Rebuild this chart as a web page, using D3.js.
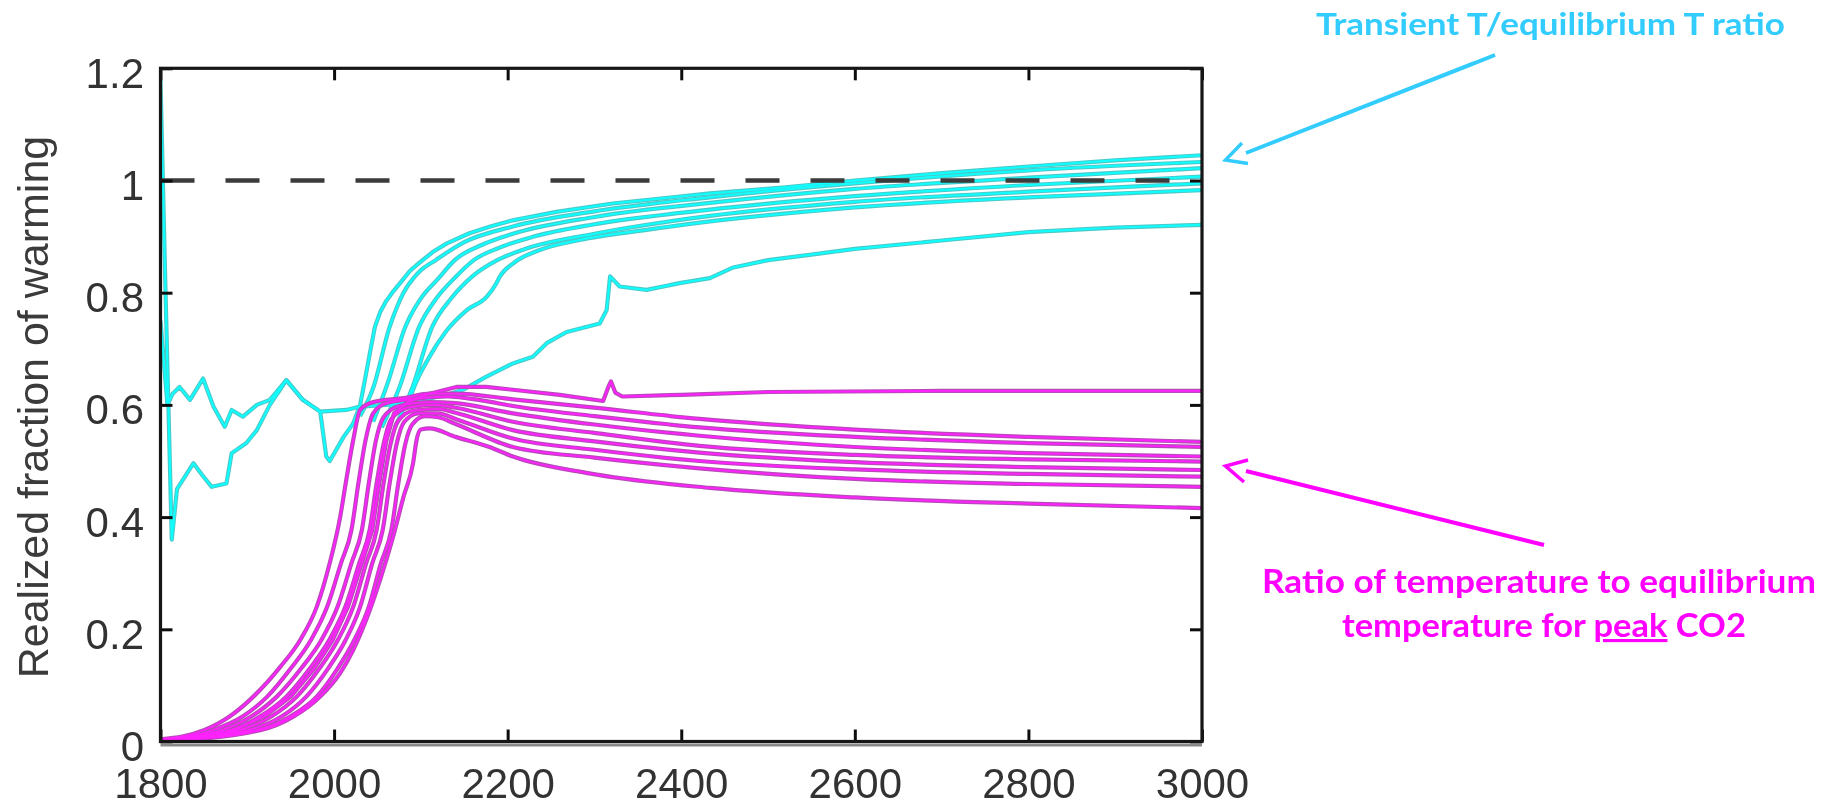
<!DOCTYPE html>
<html><head><meta charset="utf-8">
<script src="https://cdn.jsdelivr.net/npm/d3@7"></script>
<style>
html,body{margin:0;padding:0;background:#fff;}
svg{display:block;}
</style>
</head><body>
<svg id="chart" width="1825" height="805"></svg>
<script>
// ---------- data ----------
const xTickValues = [1800, 2000, 2200, 2400, 2600, 2800, 3000];
const xTickLabels = ["1800", "2000", "2200", "2400", "2600", "2800", "3000"];
const yTickValues = [0, 0.2, 0.4, 0.6, 0.8, 1, 1.2];
const yTickLabels = ["0", "0.2", "0.4", "0.6", "0.8", "1", "1.2"];
const yAxisTitle = "Realized fraction of warming";
const equilibriumLevel = 1;

// transient T / equilibrium T (cyan)
const cyan1 = [[1800,1.18],[1805,0.85],[1813,0.36],[1819,0.45],[1838,0.496],[1848,0.475],[1859,0.454],[1876,0.46],[1882,0.514],[1899,0.532],[1911,0.555],[1926,0.60],[1945,0.644],[1964,0.609],[1984,0.588],[1991,0.508],[1995,0.50],[2011,0.543],[2022,0.567],[2030,0.60],[2035,0.64],[2041,0.69],[2047,0.739],[2053,0.765],[2060,0.785],[2067,0.80],[2076,0.817],[2088,0.84],[2102,0.858],[2115,0.874],[2130,0.888],[2156,0.906],[2180,0.918],[2206,0.929],[2256,0.944],[2321,0.959],[2433,0.977],[2520,0.988],[2600,1.0],[2700,1.013],[2800,1.025],[2900,1.036],[3000,1.045]];
const cyan2 = [[2030,0.58],[2045,0.63],[2064,0.739],[2080,0.80],[2100,0.84],[2117,0.858],[2150,0.89],[2206,0.918],[2300,0.945],[2433,0.97],[2600,0.995],[2800,1.018],[3000,1.033]];
const cyan3 = [[2045,0.57],[2062,0.64],[2082,0.739],[2100,0.79],[2120,0.825],[2139,0.858],[2170,0.885],[2206,0.905],[2300,0.935],[2433,0.96],[2600,0.985],[2800,1.005],[3000,1.022]];
const cyan4 = [[2055,0.56],[2075,0.63],[2098,0.739],[2118,0.79],[2140,0.828],[2161,0.858],[2190,0.88],[2230,0.90],[2300,0.922],[2433,0.948],[2600,0.972],[2800,0.992],[3000,1.007]];
const cyan5 = [[2070,0.56],[2090,0.63],[2113,0.739],[2135,0.79],[2160,0.83],[2188,0.858],[2220,0.878],[2300,0.905],[2433,0.937],[2600,0.962],[2800,0.98],[3000,0.995]];
const cyan6 = [[2085,0.60],[2091,0.627],[2110,0.686],[2130,0.733],[2153,0.769],[2176,0.793],[2187,0.817],[2191,0.829],[2206,0.852],[2237,0.876],[2283,0.894],[2360,0.912],[2433,0.927],[2600,0.952],[2800,0.97],[3000,0.983]];
const cyanSlow = [[1800,0.75],[1808,0.60],[1814,0.62],[1822,0.632],[1834,0.609],[1849,0.647],[1861,0.597],[1874,0.561],[1882,0.591],[1895,0.579],[1911,0.600],[1926,0.609],[1945,0.644],[1964,0.609],[1984,0.588],[2014,0.591],[2030,0.597],[2060,0.60],[2100,0.608],[2130,0.618],[2150,0.628],[2175,0.65],[2206,0.674],[2229,0.686],[2245,0.71],[2268,0.73],[2306,0.745],[2314,0.769],[2318,0.829],[2329,0.811],[2360,0.805],[2398,0.817],[2433,0.826],[2460,0.845],[2500,0.858],[2550,0.868],[2600,0.878],[2700,0.893],[2800,0.908],[2900,0.916],[3000,0.921]];

// temperature / equilibrium temperature for peak CO2 (magenta)
const magenta1 = [[1800,0.004],[1850,0.02],[1880,0.045],[1907,0.08],[1938,0.133],[1961,0.181],[1980,0.24],[1995,0.318],[2007,0.40],[2014,0.466],[2022,0.537],[2030,0.591],[2045,0.605],[2080,0.612],[2110,0.62],[2140,0.62],[2206,0.61],[2300,0.595],[2421,0.575],[2600,0.556],[2800,0.543],[3000,0.534]];
const magenta2 = [[1800,0.003],[1860,0.02],[1895,0.045],[1923,0.08],[1950,0.13],[1973,0.18],[1992,0.24],[2008,0.318],[2020,0.377],[2028,0.46],[2036,0.535],[2045,0.585],[2060,0.603],[2100,0.612],[2130,0.615],[2170,0.608],[2206,0.598],[2300,0.58],[2421,0.56],[2600,0.543],[2800,0.532],[3000,0.525]];
const magenta3 = [[1800,0.002],[1870,0.02],[1905,0.045],[1934,0.08],[1962,0.13],[1985,0.18],[2004,0.24],[2020,0.318],[2032,0.377],[2040,0.46],[2048,0.535],[2057,0.578],[2075,0.598],[2110,0.605],[2140,0.603],[2206,0.585],[2300,0.565],[2421,0.545],[2600,0.525],[2800,0.514],[3000,0.508]];
const magenta4 = [[1800,0.002],[1880,0.02],[1915,0.045],[1945,0.08],[1972,0.13],[1994,0.18],[2013,0.24],[2029,0.318],[2041,0.377],[2049,0.46],[2057,0.53],[2066,0.575],[2085,0.595],[2115,0.600],[2140,0.595],[2206,0.57],[2300,0.55],[2421,0.527],[2600,0.511],[2800,0.503],[3000,0.499]];
const magenta5 = [[1800,0.001],[1890,0.02],[1928,0.045],[1957,0.08],[1983,0.13],[2004,0.18],[2022,0.24],[2037,0.318],[2049,0.377],[2057,0.46],[2065,0.53],[2074,0.572],[2092,0.59],[2120,0.593],[2140,0.586],[2206,0.555],[2300,0.535],[2421,0.515],[2600,0.498],[2800,0.489],[3000,0.484]];
const magenta6 = [[1800,0.001],[1900,0.02],[1940,0.045],[1968,0.08],[1993,0.13],[2013,0.18],[2030,0.24],[2044,0.318],[2056,0.377],[2064,0.46],[2072,0.53],[2081,0.57],[2098,0.585],[2120,0.585],[2140,0.575],[2206,0.54],[2300,0.52],[2421,0.50],[2600,0.485],[2800,0.477],[3000,0.472]];
const magenta7 = [[1800,0.001],[1910,0.02],[1950,0.045],[1980,0.08],[2004,0.13],[2023,0.18],[2040,0.24],[2054,0.318],[2066,0.377],[2074,0.46],[2082,0.53],[2090,0.565],[2105,0.58],[2120,0.578],[2140,0.566],[2206,0.525],[2300,0.506],[2421,0.487],[2600,0.468],[2800,0.459],[3000,0.454]];
const magenta8 = [[1800,0.0],[1915,0.02],[1953,0.044],[1984,0.08],[2007,0.122],[2022,0.163],[2037,0.217],[2053,0.288],[2068,0.365],[2080,0.436],[2091,0.496],[2095,0.537],[2100,0.556],[2110,0.558],[2140,0.543],[2179,0.525],[2206,0.508],[2294,0.478],[2433,0.452],[2600,0.435],[2800,0.424],[3000,0.416]];
const magentaSlow = [[1800,0.001],[1885,0.02],[1920,0.045],[1950,0.08],[1977,0.13],[1998,0.18],[2016,0.24],[2032,0.318],[2044,0.377],[2052,0.46],[2060,0.535],[2069,0.585],[2085,0.605],[2110,0.62],[2141,0.632],[2175,0.632],[2206,0.627],[2260,0.618],[2310,0.607],[2316,0.632],[2319,0.642],[2324,0.622],[2332,0.615],[2400,0.618],[2500,0.623],[2700,0.625],[3000,0.625]];

// smooth series drawn with a monotone curve, jagged ones with straight segments
const cyanSmooth = [cyan2, cyan3, cyan4, cyan5, cyan6];
const cyanJagged = [cyan1, cyanSlow];
const magentaSmooth = [magenta1, magenta2, magenta3, magenta4, magenta5, magenta6, magenta7, magenta8];
const magentaJagged = [magentaSlow];

const annotationCyan = "Transient T/equilibrium T ratio";
const annotationMagentaLine1 = "Ratio of temperature to equilibrium";
const annotationMagentaLine2 = ["temperature for ", "peak", " CO2"];

// ---------- drawing ----------
const svg = d3.select("#chart");
const W = 1825, H = 805;
svg.append("rect").attr("width", W).attr("height", H).attr("fill", "#fff");

const plot = {left: 160.5, right: 1202, top: 68.3, bottom: 741.5};
const x = d3.scaleLinear().domain([1800, 3000]).range([plot.left, plot.right]);
const y = d3.scaleLinear().domain([0, 1.2]).range([plot.bottom, plot.top]);

const defs = svg.append("defs");
defs.append("filter").attr("id", "soft").attr("x", "-5%").attr("y", "-5%").attr("width", "110%").attr("height", "110%")
  .append("feGaussianBlur").attr("stdDeviation", 0.7);
defs.append("clipPath").attr("id", "plotclip").append("rect")
  .attr("x", plot.left).attr("y", plot.top).attr("width", plot.right - plot.left).attr("height", plot.bottom - plot.top);

const chart = svg.append("g").attr("filter", "url(#soft)");

const smoothLine = d3.line().x(d => x(d[0])).y(d => y(d[1])).curve(d3.curveMonotoneX);
const jaggedLine = d3.line().x(d => x(d[0])).y(d => y(d[1])).curve(d3.curveLinear);

function drawGroup(g, smooth, jagged, under, over, wUnder, wOver) {
  const all = smooth.map(s => smoothLine(s)).concat(jagged.map(s => jaggedLine(s)));
  all.forEach(d => g.append("path").attr("d", d).attr("fill", "none")
    .attr("stroke", under).attr("stroke-width", wUnder).attr("stroke-linejoin", "round"));
  all.forEach(d => g.append("path").attr("d", d).attr("fill", "none")
    .attr("stroke", over).attr("stroke-width", wOver).attr("stroke-linejoin", "round"));
}

const lines = chart.append("g").attr("clip-path", "url(#plotclip)");
drawGroup(lines.append("g"), cyanSmooth, cyanJagged, "#4cc9c9", "#10ffff", 4.2, 2);
drawGroup(lines.append("g"), magentaSmooth, magentaJagged, "#b848b8", "#ff22ff", 4.2, 1.8);

// dashed equilibrium line
lines.append("line")
  .attr("x1", x(1800)).attr("x2", x(3000))
  .attr("y1", y(equilibriumLevel)).attr("y2", y(equilibriumLevel))
  .attr("stroke", "#3a3a3a").attr("stroke-width", 4.5)
  .attr("stroke-dasharray", "34 31");

// axes
const fontFam = "'Liberation Sans', Arial, sans-serif";
const axB = chart.append("g").attr("transform", `translate(0,${plot.bottom})`)
  .call(d3.axisBottom(x).tickValues(xTickValues).tickFormat((d, i) => xTickLabels[i]).tickSize(-12).tickPadding(26.5));
const axL = chart.append("g").attr("transform", `translate(${plot.left},0)`)
  .call(d3.axisLeft(y).tickValues(yTickValues).tickFormat((d, i) => yTickLabels[i]).tickSize(-12).tickPadding(16.5));
const axT = chart.append("g").attr("transform", `translate(0,${plot.top})`)
  .call(d3.axisTop(x).tickValues(xTickValues).tickFormat("").tickSize(-12));
const axR = chart.append("g").attr("transform", `translate(${plot.right},0)`)
  .call(d3.axisRight(y).tickValues(yTickValues).tickFormat("").tickSize(-12));
[axB, axL, axT, axR].forEach(a => {
  a.select(".domain").remove();
  a.selectAll(".tick line").attr("stroke", "#111").attr("stroke-width", 3);
  a.selectAll("text").attr("font-family", fontFam).attr("font-size", 42).attr("fill", "#333");
});
axL.selectAll("text").attr("dy", "0.45em");

// frame
chart.append("rect")
  .attr("x", plot.left).attr("y", plot.top)
  .attr("width", plot.right - plot.left).attr("height", plot.bottom - plot.top)
  .attr("fill", "none").attr("stroke", "#151515").attr("stroke-width", 3.2);
chart.append("line").attr("x1", plot.left).attr("x2", plot.right)
  .attr("y1", plot.bottom + 3.5).attr("y2", plot.bottom + 3.5)
  .attr("stroke", "#8a8a8a").attr("stroke-width", 3);

// y-axis title
chart.append("text")
  .attr("transform", `translate(48,${(132 + 682) / 2}) rotate(-90)`)
  .attr("text-anchor", "middle")
  .attr("font-family", fontFam).attr("font-size", 43).attr("fill", "#3a3a3a")
  .text(yAxisTitle);

// ---------- annotations ----------
const annFont = "Lato, 'Open Sans', sans-serif";
const ann = svg.append("g");
const cyanCol = "#33ccff", magCol = "#ff00ff";

ann.append("text").attr("x", 1316).attr("y", 35)
  .attr("font-family", annFont).attr("font-weight", 700).attr("font-size", 31)
  .attr("fill", cyanCol).attr("textLength", 469).attr("lengthAdjust", "spacingAndGlyphs")
  .text(annotationCyan);

ann.append("line").attr("x1", 1495).attr("y1", 55).attr("x2", 1246).attr("y2", 153)
  .attr("stroke", cyanCol).attr("stroke-width", 4);
ann.append("path").attr("d", "M1242,143 L1225.5,160 L1248,163.5")
  .attr("fill", "none").attr("stroke", cyanCol).attr("stroke-width", 3.5);

ann.append("text").attr("x", 1262).attr("y", 593)
  .attr("font-family", annFont).attr("font-weight", 700).attr("font-size", 31.5)
  .attr("fill", magCol).attr("textLength", 554).attr("lengthAdjust", "spacingAndGlyphs")
  .text(annotationMagentaLine1);

const t2 = ann.append("text").attr("x", 1342).attr("y", 637)
  .attr("font-family", annFont).attr("font-weight", 700).attr("font-size", 31.5)
  .attr("fill", magCol).attr("textLength", 404).attr("lengthAdjust", "spacingAndGlyphs");
annotationMagentaLine2.forEach((s, i) => {
  const ts = t2.append("tspan").text(s);
  if (i === 1) ts.style("text-decoration", "underline");
});

ann.append("line").attr("x1", 1544).attr("y1", 545).attr("x2", 1246).attr("y2", 471)
  .attr("stroke", magCol).attr("stroke-width", 4);
ann.append("path").attr("d", "M1248,460 L1225.5,466 L1244,482")
  .attr("fill", "none").attr("stroke", magCol).attr("stroke-width", 3.5);
</script>
</body></html>
